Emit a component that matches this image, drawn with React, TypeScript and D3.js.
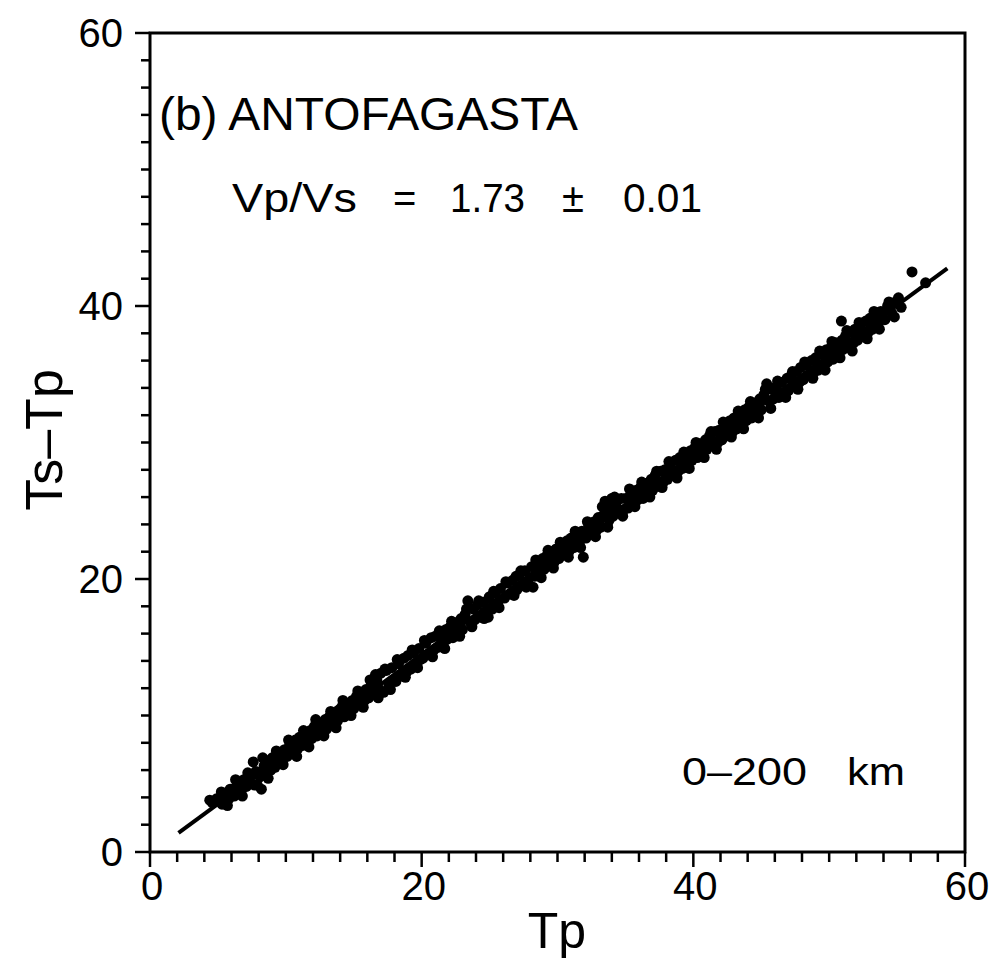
import React from "react";
import * as d3 from "d3";

// Axis ticks
const xMajorTicks = [0, 20, 40, 60];
const yMajorTicks = [0, 20, 40, 60];
const minorTicks = [0, 2, 4, 6, 8, 10, 12, 14, 16, 18, 20, 22, 24, 26, 28, 30, 32, 34, 36, 38, 40, 42, 44, 46, 48, 50, 52, 54, 56, 58, 60];

// Fitted line Ts-Tp = (Vp/Vs - 1) * Tp
const fitTp = [2.1, 58.7];
const fitTsTp = [1.4, 42.75];

// Observations [Tp, Ts-Tp] – core of the band
const observations: [number, number][] = [
  [4.4, 3.8], [4.6, 3.6], [4.9, 3.9],
  [5.1, 3.9], [5.3, 3.5], [5.5, 4.3], [5.8, 3.9], [5.9, 4.6],
  [6.0, 4.6], [6.2, 4.1], [6.5, 5.0], [6.7, 4.5], [6.9, 5.3],
  [7.1, 4.8], [7.3, 5.6], [7.5, 5.0], [7.6, 6.6], [7.8, 5.9], [7.9, 4.9],
  [8.1, 5.5], [8.2, 4.6], [8.4, 6.3], [8.6, 5.8], [8.8, 6.7], [8.9, 6.0],
  [9.0, 6.9], [9.2, 6.2], [9.5, 7.1], [9.7, 6.6], [9.9, 7.5],
  [10.1, 7.0], [10.3, 7.9], [10.5, 7.3], [10.7, 8.2], [10.9, 7.6],
  [11.0, 8.4], [11.2, 7.8], [11.4, 8.6], [11.6, 8.0], [11.8, 8.9], [11.9, 8.3],
  [12.1, 9.2], [12.3, 8.5], [12.5, 9.4], [12.7, 8.8], [12.9, 9.7],
  [13.0, 9.0], [13.2, 9.9], [13.4, 9.3], [13.6, 10.2], [13.8, 9.6], [13.9, 10.4],
  [14.1, 10.6], [14.3, 9.9], [14.5, 10.9], [14.7, 10.3], [14.9, 11.1],
  [15.0, 10.5], [15.2, 11.4], [15.4, 10.8], [15.6, 11.7], [15.8, 11.1], [15.9, 11.9],
  [16.1, 11.3], [16.3, 12.2], [16.5, 11.6], [16.6, 13.0], [16.7, 12.6], [16.9, 11.9],
  [17.0, 13.1], [17.2, 11.7], [17.4, 13.3], [17.6, 12.2], [17.8, 13.5], [17.9, 12.6],
  [18.1, 12.5], [18.3, 13.8], [18.5, 12.9], [18.7, 14.2], [18.9, 13.2],
  [19.0, 14.4], [19.2, 13.4], [19.4, 14.6], [19.6, 13.8], [19.8, 14.9], [19.9, 14.1],
  [20.1, 14.2], [20.3, 15.3], [20.5, 14.5], [20.7, 15.7], [20.9, 14.8],
  [21.0, 15.8], [21.2, 15.0], [21.4, 16.0], [21.6, 15.3], [21.8, 16.3], [21.9, 15.6],
  [22.1, 16.5], [22.3, 15.7], [22.5, 16.8], [22.7, 16.1], [22.9, 17.1],
  [23.0, 16.3], [23.2, 17.4], [23.4, 18.4], [23.6, 16.8], [23.8, 17.8], [23.9, 17.0],
  [24.1, 18.1], [24.3, 17.2], [24.5, 18.3], [24.7, 17.6], [24.9, 17.2], [24.95, 18.6],
  [25.0, 18.7], [25.2, 17.8], [25.4, 19.0], [25.6, 18.2], [25.8, 19.3],
  [26.1, 18.6], [26.3, 19.7], [26.5, 18.9], [26.7, 19.9], [26.9, 19.2], [26.95, 20.2],
  [27.0, 19.2], [27.2, 20.3], [27.4, 19.5], [27.6, 20.6], [27.8, 19.8],
  [28.1, 20.9], [28.2, 19.4], [28.3, 20.2], [28.5, 21.2], [28.7, 20.5], [28.9, 21.5],
  [29.0, 20.7], [29.2, 21.7], [29.4, 21.0], [29.6, 22.0], [29.8, 21.3], [29.9, 22.2],
  [30.1, 21.5], [30.3, 22.5], [30.5, 21.8], [30.7, 22.8], [30.9, 22.1],
  [31.0, 23.0], [31.2, 22.3], [31.4, 23.2], [31.6, 22.6], [31.8, 23.5], [31.9, 21.6],
  [32.1, 23.0], [32.3, 23.9], [32.5, 23.3], [32.7, 24.2], [32.9, 23.6],
  [33.0, 24.5], [33.2, 23.8], [33.3, 25.3], [33.4, 24.7], [33.6, 25.6], [33.8, 24.3], [33.9, 25.1],
  [34.0, 25.9], [34.1, 24.6], [34.3, 25.5], [34.5, 24.9], [34.7, 25.9], [34.9, 25.1],
  [35.0, 25.9], [35.2, 25.2], [35.4, 26.2], [35.6, 25.5], [35.8, 26.5], [35.9, 25.8],
  [36.1, 26.7], [36.3, 25.9], [36.5, 27.0], [36.7, 26.3], [36.9, 27.3],
  [37.0, 26.5], [37.2, 27.6], [37.4, 26.8], [37.6, 27.9], [37.8, 27.1], [37.9, 28.0],
  [38.1, 27.3], [38.3, 28.3], [38.5, 27.6], [38.7, 28.7], [38.9, 27.9],
  [39.0, 28.9], [39.2, 28.1], [39.4, 29.1], [39.6, 28.4], [39.8, 29.4], [39.9, 28.7],
  [40.1, 29.6], [40.3, 28.9], [40.5, 29.9], [40.7, 29.2], [40.9, 30.2],
  [41.0, 29.5], [41.2, 30.5], [41.4, 29.8], [41.6, 30.8], [41.8, 30.0], [41.9, 30.9],
  [42.1, 30.2], [42.3, 31.3], [42.5, 30.5], [42.7, 31.6], [42.9, 30.8],
  [43.0, 31.8], [43.2, 31.0], [43.4, 32.1], [43.6, 31.3], [43.8, 32.4], [43.9, 31.6],
  [44.1, 32.6], [44.3, 31.8], [44.5, 32.9], [44.7, 32.1], [44.9, 33.2],
  [45.0, 32.4], [45.2, 33.5], [45.4, 34.3], [45.6, 33.0], [45.8, 33.9], [45.9, 33.2],
  [46.1, 34.1], [46.3, 33.3], [46.5, 34.4], [46.7, 33.6], [46.9, 34.7],
  [47.0, 33.8], [47.2, 34.9], [47.4, 34.1], [47.6, 35.2], [47.8, 34.4], [47.9, 35.5],
  [48.1, 34.6], [48.3, 35.7], [48.5, 34.9], [48.7, 36.0], [48.9, 35.2],
  [49.0, 36.2], [49.2, 35.3], [49.4, 36.5], [49.6, 35.6], [49.8, 36.8], [49.9, 35.9],
  [50.1, 36.9], [50.3, 36.1], [50.5, 37.3], [50.7, 36.5], [50.9, 38.9], [50.95, 37.5],
  [51.0, 36.8], [51.2, 37.8], [51.4, 37.0], [51.6, 38.1], [51.8, 37.3], [51.9, 38.3],
  [52.1, 37.5], [52.3, 38.6], [52.5, 37.8], [52.7, 38.9], [52.9, 38.1],
  [53.0, 39.1], [53.2, 38.3], [53.4, 39.4], [53.6, 38.7], [53.8, 39.6],
  [54.1, 39.0], [54.3, 40.0], [54.6, 39.5], [54.9, 40.3],
  [55.1, 40.6], [55.3, 39.9],
  [56.1, 42.5], [57.1, 41.7],
];

// Observations [Tp, Ts-Tp] – upper and lower edges of the band
const edgeObservations: [number, number][] = [
  [5.25, 4.4], [5.7, 3.4], [6.3, 5.3], [6.8, 4.1], [7.2, 5.8], [7.7, 4.9],
  [8.3, 6.9], [8.7, 5.4], [9.3, 7.4], [9.8, 6.4], [10.2, 8.2], [10.8, 7.0],
  [11.3, 8.9], [11.7, 7.7], [12.2, 9.7], [12.8, 8.5], [13.3, 10.3], [13.7, 9.1],
  [14.2, 11.1], [14.8, 10.0], [15.3, 11.8], [15.7, 10.6], [16.2, 12.6], [16.8, 11.3],
  [17.3, 13.4], [17.7, 11.9], [18.2, 14.1], [18.8, 12.8], [19.3, 14.8], [19.7, 13.5],
  [20.2, 15.5], [20.8, 14.3], [21.3, 16.2], [21.7, 14.9], [22.2, 16.9], [22.8, 15.8],
  [23.3, 17.8], [23.7, 16.5], [24.2, 18.4], [24.6, 17.1], [25.3, 19.1], [25.7, 17.9],
  [26.2, 19.8], [26.8, 18.8], [27.3, 20.6], [27.7, 19.4], [28.4, 21.4], [28.8, 20.1],
  [29.3, 22.1], [29.7, 20.8], [30.2, 22.7], [30.8, 21.6], [31.3, 23.5], [31.7, 22.3],
  [32.2, 24.2], [32.8, 23.1], [33.5, 25.7], [33.7, 23.8], [34.2, 26.0], [34.8, 24.6],
  [35.3, 26.6], [35.7, 25.3], [36.2, 27.1], [36.8, 26.0], [37.3, 27.9], [37.7, 26.7],
  [38.2, 28.6], [38.8, 27.4], [39.3, 29.3], [39.7, 28.1], [40.2, 30.0], [40.8, 28.9],
  [41.3, 30.8], [41.7, 29.5], [42.2, 31.5], [42.8, 30.4], [43.3, 32.3], [43.7, 31.0],
  [44.2, 33.0], [44.8, 31.8], [45.3, 33.9], [45.7, 32.5], [46.2, 34.5], [46.8, 33.3],
  [47.3, 35.2], [47.7, 33.9], [48.2, 35.9], [48.8, 34.7], [49.3, 36.7], [49.7, 35.3],
  [50.2, 37.4], [50.8, 36.2], [51.3, 38.2], [51.7, 36.7], [52.2, 38.8], [52.8, 37.6],
  [53.3, 39.6], [53.7, 38.3], [54.4, 40.3], [54.8, 39.2],
];

const FONT = "'Liberation Sans', Arial, Helvetica, sans-serif";

export default function App() {
  const W = 999;
  const H = 963;
  const x = d3.scaleLinear().domain([0, 60]).range([150, 965]);
  const y = d3.scaleLinear().domain([0, 60]).range([852, 33]);
  const line = d3
    .line<number>()
    .x((_, i) => x(fitTp[i]))
    .y((_, i) => y(fitTsTp[i]));
  const allPoints = [...observations, ...edgeObservations];

  return (
    <svg
      width={W}
      height={H}
      viewBox={`0 0 ${W} ${H}`}
      style={{ position: "absolute", left: 0, top: 0, background: "#fff" }}
      fontFamily={FONT}
    >
      <rect x={0} y={0} width={W} height={H} fill="#fff" />
      {/* frame */}
      <rect
        x={x(0)}
        y={y(60)}
        width={x(60) - x(0)}
        height={y(0) - y(60)}
        fill="none"
        stroke="#000"
        strokeWidth={3}
      />
      {/* x ticks */}
      {minorTicks.map((t) => (
        <line
          key={"xm" + t}
          x1={x(t)}
          x2={x(t)}
          y1={y(0)}
          y2={y(0) + (xMajorTicks.includes(t) ? 15 : 10)}
          stroke="#000"
          strokeWidth={2.5}
        />
      ))}
      {/* y ticks */}
      {minorTicks.map((t) => (
        <line
          key={"ym" + t}
          x1={x(0)}
          x2={x(0) - (yMajorTicks.includes(t) ? 15 : 9)}
          y1={y(t)}
          y2={y(t)}
          stroke="#000"
          strokeWidth={2.5}
        />
      ))}
      {xMajorTicks.map((t) => (
        <text key={"xl" + t} x={x(t) + 2} y={900} fontSize={40} textAnchor="middle">
          {t}
        </text>
      ))}
      {yMajorTicks.map((t) => (
        <text key={"yl" + t} x={123} y={y(t) + 14} fontSize={40} textAnchor="end">
          {t}
        </text>
      ))}
      {/* fitted line */}
      <path d={line(fitTp) || ""} fill="none" stroke="#000" strokeWidth={4} />
      {/* points */}
      {allPoints.map(([tp, d], i) => (
        <circle key={i} cx={x(tp)} cy={y(d)} r={5.5} fill="#000" />
      ))}
      {/* annotations */}
      <text x={159} y={130} fontSize={46} textLength={419} lengthAdjust="spacingAndGlyphs">
        (b) ANTOFAGASTA
      </text>
      <g fontSize={40}>
        <text x={232} y={212} textLength={125} lengthAdjust="spacingAndGlyphs">Vp/Vs</text>
        <text x={393} y={212}>=</text>
        <text x={450} y={212} textLength={75} lengthAdjust="spacingAndGlyphs">1.73</text>
        <text x={562} y={212}>±</text>
        <text x={623} y={212} textLength={79} lengthAdjust="spacingAndGlyphs">0.01</text>
      </g>
      <g fontSize={38}>
        <text x={682} y={785} textLength={125} lengthAdjust="spacingAndGlyphs">0–200</text>
        <text x={847} y={785} textLength={58} lengthAdjust="spacingAndGlyphs">km</text>
      </g>
      {/* axis labels */}
      <text x={557} y={948} fontSize={50} textAnchor="middle">
        Tp
      </text>
      <text
        transform="translate(62,440) rotate(-90)"
        fontSize={52}
        textAnchor="middle"
      >
        Ts–Tp
      </text>
    </svg>
  );
}
